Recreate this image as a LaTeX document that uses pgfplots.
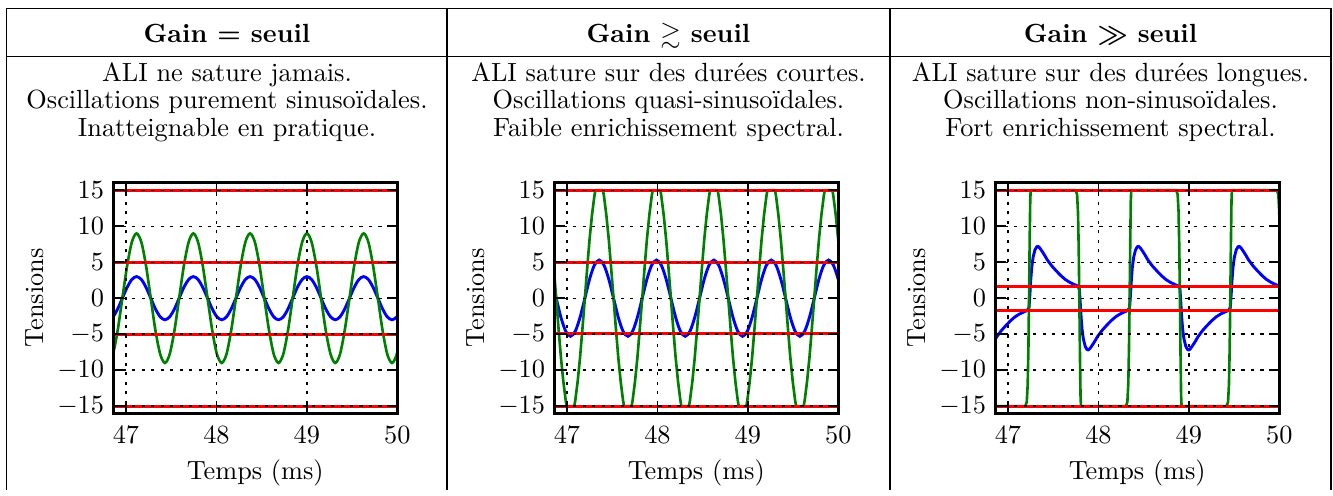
\documentclass[border=0pt]{standalone}
\usepackage{amsmath,amssymb}
\usepackage{pgfplots}
\usepackage{pgfplotstable}
\pgfplotsset{compat=1.18}
\definecolor{mplgreen}{rgb}{0,0.5,0}

\pgfplotsset{
  panel/.style={
    anchor=south west, scale only axis, width=108pt, height=87.83pt,
    xmin=46.86, xmax=50, ymin=-16, ymax=16.1,
    xtick={47,48,49,50}, ytick={-15,-10,-5,0,5,10,15},
    axis line style={line width=1.2pt}, axis on top,
    tick align=inside, major tick length=4pt, tick style={black, line width=0.6pt},
    grid=major, grid style={black, line width=0.5pt, dash pattern=on 1.2pt off 2.4pt},
    xlabel={Temps (ms)}, ylabel={Tensions},
    xlabel style={at={(axis description cs:0.5,-0.288)}, anchor=base},
    ylabel style={at={(axis description cs:-0.247,0.5)}, anchor=base},
    xticklabel style={yshift=-1.5pt},
  },
  bl/.style={blue, line width=1.1pt},
  gr/.style={mplgreen, line width=1.0pt},
  rd/.style={red, line width=1.1pt},
}

% panel 1 : t, entree filtre (bleu), sortie ALI (vert)
\pgfplotstableread{
t b g
46.804 -3 -9
46.856 -2.598 -7.794
46.908 -1.5 -4.5
46.960 0 0
47.013 1.5 4.5
47.065 2.598 7.794
47.117 3 9
47.170 2.598 7.794
47.222 1.5 4.5
47.274 0 0
47.326 -1.5 -4.5
47.379 -2.598 -7.794
47.431 -3 -9
47.483 -2.598 -7.794
47.536 -1.5 -4.5
47.588 0 0
47.640 1.5 4.5
47.693 2.598 7.794
47.745 3 9
47.797 2.598 7.794
47.849 1.5 4.5
47.902 0 0
47.954 -1.5 -4.5
48.006 -2.598 -7.794
48.059 -3 -9
48.111 -2.598 -7.794
48.163 -1.5 -4.5
48.216 0 0
48.268 1.5 4.5
48.320 2.598 7.794
48.372 3 9
48.425 2.598 7.794
48.477 1.5 4.5
48.529 0 0
48.582 -1.5 -4.5
48.634 -2.598 -7.794
48.686 -3 -9
48.739 -2.598 -7.794
48.791 -1.5 -4.5
48.843 0 0
48.895 1.5 4.5
48.948 2.598 7.794
49.000 3 9
49.052 2.598 7.794
49.105 1.5 4.5
49.157 0 0
49.209 -1.5 -4.5
49.262 -2.598 -7.794
49.314 -3 -9
49.366 -2.598 -7.794
49.418 -1.5 -4.5
49.471 0 0
49.523 1.5 4.5
49.575 2.598 7.794
49.628 3 9
49.680 2.598 7.794
49.732 1.5 4.5
49.785 0 0
49.837 -1.5 -4.5
49.889 -2.598 -7.794
49.941 -3 -9
49.994 -2.598 -7.794
50.046 -1.5 -4.5
}\dataA

\pgfplotstableread{
t b
46.828 2.65
46.881 0
46.933 -2.65
46.986 -4.59
47.039 -5.3
47.092 -4.59
47.145 -2.65
47.198 0
47.250 2.65
47.303 4.59
47.356 5.3
47.409 4.59
47.462 2.65
47.515 0
47.567 -2.65
47.620 -4.59
47.673 -5.3
47.726 -4.59
47.779 -2.65
47.832 0
47.884 2.65
47.937 4.59
47.990 5.3
48.043 4.59
48.096 2.65
48.149 0
48.201 -2.65
48.254 -4.59
48.307 -5.3
48.360 -4.59
48.413 -2.65
48.466 0
48.518 2.65
48.571 4.59
48.624 5.3
48.677 4.59
48.730 2.65
48.783 0
48.835 -2.65
48.888 -4.59
48.941 -5.3
48.994 -4.59
49.047 -2.65
49.100 0
49.152 2.65
49.205 4.59
49.258 5.3
49.311 4.59
49.364 2.65
49.417 0
49.469 -2.65
49.522 -4.59
49.575 -5.3
49.628 -4.59
49.681 -2.65
49.734 0
49.786 2.65
49.839 4.59
49.892 5.3
49.945 4.59
49.998 2.65
50.051 0
}\dataBb

\pgfplotstableread{
t g
46.764 15
46.775 14.2
46.801 11.6
46.828 8.2
46.854 4.245
46.881 0
46.907 -4.245
46.933 -8.2
46.960 -11.6
46.986 -14.2
46.997 -15
47.081 -15
47.092 -14.2
47.118 -11.6
47.145 -8.2
47.171 -4.245
47.198 0
47.224 4.245
47.250 8.2
47.277 11.6
47.303 14.2
47.314 15
47.398 15
47.409 14.2
47.435 11.6
47.462 8.2
47.488 4.245
47.515 0
47.541 -4.245
47.567 -8.2
47.594 -11.6
47.620 -14.2
47.631 -15
47.715 -15
47.726 -14.2
47.752 -11.6
47.779 -8.2
47.805 -4.245
47.832 0
47.858 4.245
47.884 8.2
47.911 11.6
47.937 14.2
47.948 15
48.032 15
48.043 14.2
48.069 11.6
48.096 8.2
48.122 4.245
48.149 0
48.175 -4.245
48.201 -8.2
48.228 -11.6
48.254 -14.2
48.265 -15
48.349 -15
48.360 -14.2
48.386 -11.6
48.413 -8.2
48.439 -4.245
48.466 0
48.492 4.245
48.518 8.2
48.545 11.6
48.571 14.2
48.582 15
48.666 15
48.677 14.2
48.703 11.6
48.730 8.2
48.756 4.245
48.783 0
48.809 -4.245
48.835 -8.2
48.862 -11.6
48.888 -14.2
48.899 -15
48.983 -15
48.994 -14.2
49.020 -11.6
49.047 -8.2
49.073 -4.245
49.100 0
49.126 4.245
49.152 8.2
49.179 11.6
49.205 14.2
49.216 15
49.300 15
49.311 14.2
49.337 11.6
49.364 8.2
49.390 4.245
49.417 0
49.443 -4.245
49.469 -8.2
49.496 -11.6
49.522 -14.2
49.533 -15
49.617 -15
49.628 -14.2
49.654 -11.6
49.681 -8.2
49.707 -4.245
49.734 0
49.760 4.245
49.786 8.2
49.813 11.6
49.839 14.2
49.850 15
49.934 15
49.945 14.2
49.971 11.6
49.998 8.2
50.024 4.245
}\dataBg

\pgfplotstableread{
t b
46.827 -6.4
46.852 -5.9
46.877 -5.35
46.927 -4.5
46.977 -3.8
47.027 -3.15
47.077 -2.6
47.127 -2.2
47.177 -1.9
47.212 -1.72
47.233 -1.3
47.243 0.6
47.253 2.7
47.263 4.3
47.278 5.7
47.298 6.7
47.318 7.15
47.333 7.2
47.353 6.95
47.383 6.4
47.408 5.9
47.433 5.35
47.483 4.5
47.533 3.8
47.583 3.15
47.633 2.6
47.683 2.2
47.733 1.9
47.768 1.72
47.789 1.3
47.799 -0.6
47.809 -2.7
47.819 -4.3
47.834 -5.7
47.854 -6.7
47.874 -7.15
47.889 -7.2
47.909 -6.95
47.939 -6.4
47.964 -5.9
47.989 -5.35
48.039 -4.5
48.089 -3.8
48.139 -3.15
48.189 -2.6
48.239 -2.2
48.289 -1.9
48.324 -1.72
48.345 -1.3
48.355 0.6
48.365 2.7
48.375 4.3
48.390 5.7
48.410 6.7
48.430 7.15
48.445 7.2
48.465 6.95
48.495 6.4
48.520 5.9
48.545 5.35
48.595 4.5
48.645 3.8
48.695 3.15
48.745 2.6
48.795 2.2
48.845 1.9
48.880 1.72
48.901 1.3
48.911 -0.6
48.921 -2.7
48.931 -4.3
48.946 -5.7
48.966 -6.7
48.986 -7.15
49.001 -7.2
49.021 -6.95
49.051 -6.4
49.076 -5.9
49.101 -5.35
49.151 -4.5
49.201 -3.8
49.251 -3.15
49.301 -2.6
49.351 -2.2
49.401 -1.9
49.436 -1.72
49.458 -1.3
49.468 0.6
49.478 2.7
49.488 4.3
49.503 5.7
49.523 6.7
49.543 7.15
49.558 7.2
49.578 6.95
49.608 6.4
49.633 5.9
49.658 5.35
49.708 4.5
49.758 3.8
49.808 3.15
49.858 2.6
49.908 2.2
49.958 1.9
49.993 1.72
50.014 1.3
}\dataCb

\pgfplotstableread{
t g
46.800 -15
47.193 -15
47.208 -14.4
47.218 -12
47.226 -7
47.233 0
47.240 8
47.246 13.5
47.251 15
47.749 15
47.764 14.4
47.774 12
47.782 7
47.789 0
47.796 -8
47.802 -13.5
47.807 -15
48.305 -15
48.320 -14.4
48.330 -12
48.338 -7
48.345 0
48.352 8
48.358 13.5
48.363 15
48.861 15
48.876 14.4
48.886 12
48.894 7
48.901 0
48.908 -8
48.914 -13.5
48.919 -15
49.418 -15
49.433 -14.4
49.443 -12
49.451 -7
49.458 0
49.465 8
49.471 13.5
49.476 15
49.974 15
49.989 14.4
49.999 12
50.007 7
50.014 0
}\dataCg

\begin{document}
\begin{tikzpicture}
\begin{scope}[x=0.38023pt, y=-0.38023pt, yshift=183.65pt]
  \path[use as bounding box] (0,0) rectangle (1333,483);
  % cadre du tableau
  \draw[line width=0.5pt] (6.7,8.3) -- (1331,8.3);
  \draw[line width=0.5pt] (6.7,56.7) -- (1331,56.7);
  \draw[line width=0.5pt] (6.7,8.3) -- (6.7,490);
  \draw[line width=0.5pt] (447,8.3) -- (447,490);
  \draw[line width=0.5pt] (890,8.3) -- (890,490);
  \draw[line width=0.5pt] (1331,8.3) -- (1331,490);
  % en-tetes
  \node[anchor=base, font=\bfseries] at (227,42) {Gain $\boldsymbol{=}$ seuil};
  \node[anchor=base, font=\bfseries] at (668.5,42) {Gain $\gtrsim$ seuil};
  \node[anchor=base, font=\bfseries] at (1110.5,42) {Gain $\boldsymbol{\gg}$ seuil};
  % textes
  \node[anchor=base] at (227,81.5) {ALI ne sature jamais.};
  \node[anchor=base] at (227,108.8) {Oscillations purement sinusoïdales.};
  \node[anchor=base] at (227,136.1) {Inatteignable en pratique.};
  \node[anchor=base] at (668.5,81.5) {ALI sature sur des durées courtes.};
  \node[anchor=base] at (668.5,108.8) {Oscillations quasi-sinusoïdales.};
  \node[anchor=base] at (668.5,136.1) {Faible enrichissement spectral.};
  \node[anchor=base] at (1110.5,81.5) {ALI sature sur des durées longues.};
  \node[anchor=base] at (1110.5,108.8) {Oscillations non-sinusoïdales.};
  \node[anchor=base] at (1110.5,136.1) {Fort enrichissement spectral.};
  \coordinate (A) at (113.3,413.3);
  \coordinate (B) at (554.3,413.3);
  \coordinate (C) at (995.3,413.3);
\end{scope}

\begin{axis}[panel, at={(A)}]
\addplot[bl, smooth] table[x=t, y=b] {\dataA};
\addplot[gr, smooth] table[x=t, y=g] {\dataA};
\addplot[rd] coordinates {(46.8,15)(50.1,15)};
\addplot[rd] coordinates {(46.8,5)(50.1,5)};
\addplot[rd] coordinates {(46.8,-5)(50.1,-5)};
\addplot[rd] coordinates {(46.8,-15)(50.1,-15)};
\end{axis}

\begin{axis}[panel, at={(B)}]
\addplot[bl, smooth] table[x=t, y=b] {\dataBb};
\addplot[gr, line join=round] table[x=t, y=g] {\dataBg};
\addplot[rd] coordinates {(46.8,15)(50.1,15)};
\addplot[rd] coordinates {(46.8,4.9)(50.1,4.9)};
\addplot[rd] coordinates {(46.8,-4.9)(50.1,-4.9)};
\addplot[rd] coordinates {(46.8,-15)(50.1,-15)};
\end{axis}

\begin{axis}[panel, at={(C)}]
\addplot[bl, line join=round] table[x=t, y=b] {\dataCb};
\addplot[gr, line join=round] table[x=t, y=g] {\dataCg};
\addplot[rd] coordinates {(46.8,15)(50.1,15)};
\addplot[rd] coordinates {(46.8,1.67)(50.1,1.67)};
\addplot[rd] coordinates {(46.8,-1.67)(50.1,-1.67)};
\addplot[rd] coordinates {(46.8,-15)(50.1,-15)};
\end{axis}
\end{tikzpicture}
\end{document}
